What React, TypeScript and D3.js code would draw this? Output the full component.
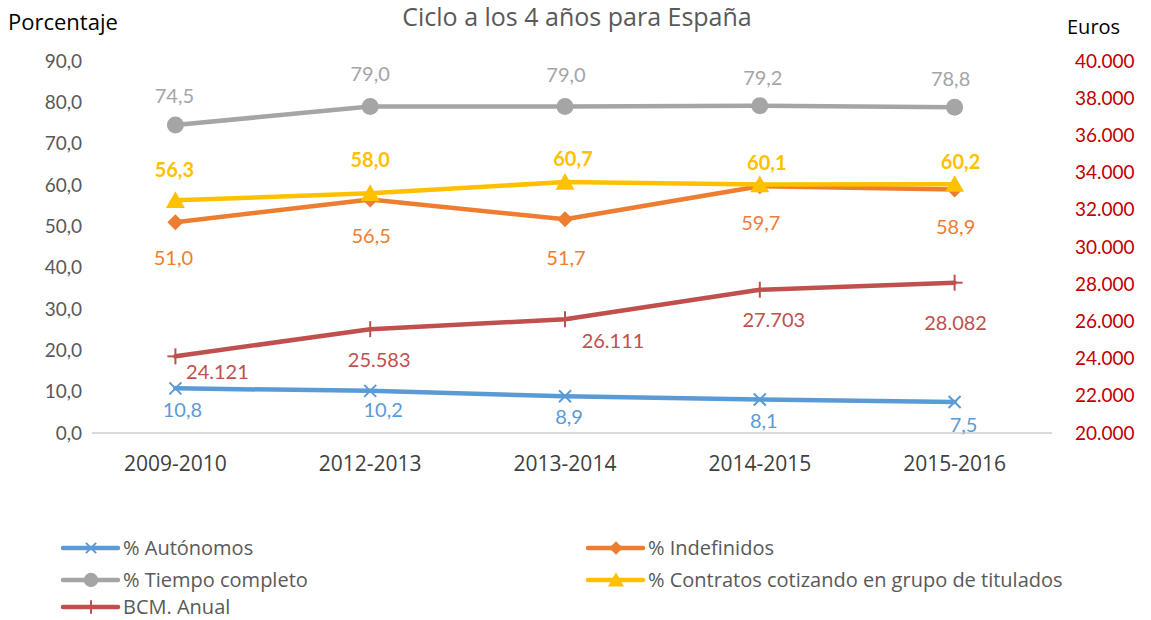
import React from "react";
import * as d3 from "d3";

const categories = ["2009-2010", "2012-2013", "2013-2014", "2014-2015", "2015-2016"];
const autonomos = [10.8, 10.2, 8.9, 8.1, 7.5];
const indefinidos = [51.0, 56.5, 51.7, 59.7, 58.9];
const tiempoCompleto = [74.5, 79.0, 79.0, 79.2, 78.8];
const contratos = [56.3, 58.0, 60.7, 60.1, 60.2];
const bcmAnual = [24121, 25583, 26111, 27703, 28082];
const leftTicks = [0, 10, 20, 30, 40, 50, 60, 70, 80, 90];
const rightTicks = [20000, 22000, 24000, 26000, 28000, 30000, 32000, 34000, 36000, 38000, 40000];

// label offsets (style only)
const offAut = [[7, 22], [13, 19], [4, 21], [4, 21], [9, 23]];
const offInd = [[-2, 36], [1, 37], [1, 39], [1, 37], [1, 37]];
const offTie = [[-1, -29], [0, -32], [1, -31], [3, -28], [-4, -28]];
const offCon = [[-1, -30], [0, -33], [8, -23], [7, -22], [6, -22]];
const offBcm = [[42, 16], [9, 31], [48, 22], [14, 30], [1, 40]];

const W = 1151, H = 620;
const L = 78, R = 1052, T = 61, B = 433;
const FONT = "'Open Sans', sans-serif";
const LFONT = "Lato, 'Open Sans', sans-serif";

const fmt1 = (v: number) => v.toFixed(1).replace(".", ",");
const fmtK = (v: number) => d3.format(",")(v).replace(/,/g, ".");

type Kind = "x" | "diamond" | "circle" | "triangle" | "plus";

function Marker({ kind, x, y, color, s = 1 }: { kind: Kind; x: number; y: number; color: string; s?: number }) {
  if (kind === "x") {
    const r = 6 * s;
    return (
      <g stroke={color} strokeWidth={2}>
        <line x1={x - r} y1={y - r} x2={x + r} y2={y + r} />
        <line x1={x - r} y1={y + r} x2={x + r} y2={y - r} />
      </g>
    );
  }
  if (kind === "diamond") {
    const r = 8 * s;
    return <path d={`M${x},${y - r}L${x + r},${y}L${x},${y + r}L${x - r},${y}Z`} fill={color} />;
  }
  if (kind === "circle") return <circle cx={x} cy={y} r={8.5 * s} fill={color} />;
  if (kind === "triangle") {
    const w = 9.5 * s, h = 9 * s;
    return <path d={`M${x},${y - h}L${x + w},${y + h * 0.85}L${x - w},${y + h * 0.85}Z`} fill={color} />;
  }
  const r = 8 * s;
  return (
    <g stroke={color} strokeWidth={2}>
      <line x1={x} y1={y - r} x2={x} y2={y + r} />
      <line x1={x - r} y1={y} x2={x + r} y2={y} />
    </g>
  );
}

export default function App() {
  const x = d3.scaleBand<string>().domain(categories).range([L, R]);
  const cx = (c: string) => (x(c) ?? 0) + x.bandwidth() / 2;
  const yL = d3.scaleLinear().domain([0, 90]).range([B, T]);
  const yR = d3.scaleLinear().domain([20000, 40000]).range([B, T]);

  const series = [
    { name: "% Autónomos", vals: autonomos, y: yL, color: "#5B9BD5", kind: "x" as Kind, off: offAut, fmt: fmt1, bold: false },
    { name: "% Indefinidos", vals: indefinidos, y: yL, color: "#ED7D31", kind: "diamond" as Kind, off: offInd, fmt: fmt1, bold: false },
    { name: "% Tiempo completo", vals: tiempoCompleto, y: yL, color: "#A5A5A5", kind: "circle" as Kind, off: offTie, fmt: fmt1, bold: false },
    { name: "% Contratos cotizando en grupo de titulados", vals: contratos, y: yL, color: "#FFC000", kind: "triangle" as Kind, off: offCon, fmt: fmt1, bold: true },
    { name: "BCM. Anual", vals: bcmAnual, y: yR, color: "#C0504D", kind: "plus" as Kind, off: offBcm, fmt: fmtK, bold: false },
  ];

  const legendPos = [
    [63, 548], [588, 548], [63, 580], [588, 580], [63, 607],
  ];

  return (
    <svg width={W} height={H} style={{ display: "block", position: "absolute", left: 0, top: 0 }}>
      <rect width={W} height={H} fill="#fff" />
      <text x={577} y={26} textAnchor="middle" fontFamily={FONT} fontSize={25} fill="#595959">Ciclo a los 4 años para España</text>
      <text x={8} y={30} fontFamily={FONT} fontSize={22} fill="#000">Porcentaje</text>
      <text x={1067} y={34} fontFamily={FONT} fontSize={20} fill="#000">Euros</text>

      {leftTicks.map((t) => (
        <text key={t} x={82} y={yL(t)} dy="0.35em" textAnchor="end" fontFamily={LFONT} fontSize={19} fill="#595959">{fmt1(t)}</text>
      ))}
      {rightTicks.map((t) => (
        <text key={t} x={1075} y={yR(t)} dy="0.35em" fontFamily={LFONT} fontSize={19} fill="#C00000">{fmtK(t)}</text>
      ))}
      <line x1={92} x2={R} y1={B} y2={B} stroke="#D9D9D9" strokeWidth={2} />
      {categories.map((c) => (
        <text key={c} x={cx(c)} y={464} dy="0.35em" textAnchor="middle" fontFamily={FONT} fontSize={21} fill="#404040">{c}</text>
      ))}

      {series.map((s) => {
        const line = d3.line<number>().x((_, i) => cx(categories[i])).y((v) => s.y(v));
        return (
          <g key={s.name}>
            <path d={line(s.vals) ?? ""} fill="none" stroke={s.color} strokeWidth={4.5} strokeLinejoin="round" strokeLinecap="round" />
            {s.vals.map((v, i) => (
              <Marker key={i} kind={s.kind} x={cx(categories[i])} y={s.y(v)} color={s.color} />
            ))}
          </g>
        );
      })}
      {series.map((s) => (
        <g key={s.name + "l"}>
          {s.vals.map((v, i) => (
            <text key={i} x={cx(categories[i]) + s.off[i][0]} y={s.y(v) + s.off[i][1]} dy="0.35em" textAnchor="middle"
              fontFamily={LFONT} fontSize={20} fontWeight={s.bold ? 700 : 400} fill={s.color}>{s.fmt(v)}</text>
          ))}
        </g>
      ))}

      {series.map((s, i) => {
        const [lx, ly] = legendPos[i];
        return (
          <g key={s.name + "g"}>
            <line x1={lx} x2={lx + 55} y1={ly} y2={ly} stroke={s.color} strokeWidth={4.5} strokeLinecap="round" />
            <Marker kind={s.kind} x={lx + 28} y={ly} color={s.color} s={0.85} />
            <text x={lx + 60} y={ly} dy="0.35em" fontFamily={FONT} fontSize={20} fill="#595959">{s.name}</text>
          </g>
        );
      })}
    </svg>
  );
}
